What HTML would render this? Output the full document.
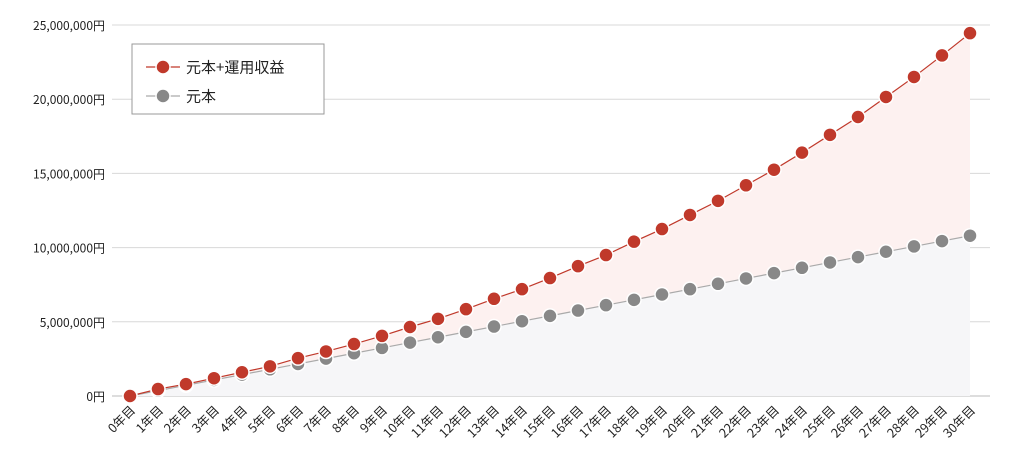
<!DOCTYPE html>
<html><head><meta charset="utf-8"><style>
body{margin:0;background:#fff;}
svg{display:block;font-family:"Noto Sans CJK JP","Liberation Sans",sans-serif;}
</style></head><body>
<svg id="chart" width="1024" height="460">
<g id="grid"></g><g id="areas"></g><g id="lines"></g><g id="pts"></g><g id="ylab"></g><g id="xlab"></g>
<g>
<rect x="132" y="44" width="192" height="70" fill="#fff" stroke="#999" stroke-width="1"/>
<g>
<line x1="146" y1="67" x2="180" y2="67" stroke="#c0392b" stroke-width="1.2"/>
<circle cx="163" cy="67" r="7" fill="#c0392b" stroke="#fff" stroke-width="1.5"/>
<text x="186" y="72.5" font-size="15" fill="#222">元本+運用収益</text></g>
<g>
<line x1="146" y1="96" x2="180" y2="96" stroke="#aaa" stroke-width="1.2"/>
<circle cx="163" cy="96" r="7" fill="#888" stroke="#fff" stroke-width="1.5"/>
<text x="186" y="101.5" font-size="15" fill="#222">元本</text></g>
</g>
</svg>
<script>
const years=[0,1,2,3,4,5,6,7,8,9,10,11,12,13,14,15,16,17,18,19,20,21,22,23,24,25,26,27,28,29,30];
const total=[0,470000,800000,1200000,1600000,2000000,2550000,3000000,3500000,4050000,4650000,5200000,5850000,6550000,7200000,7950000,8750000,9500000,10400000,11250000,12200000,13150000,14200000,15250000,16400000,17600000,18800000,20150000,21500000,22950000,24450000];
const principal=[0,360000,720000,1080000,1440000,1800000,2160000,2520000,2880000,3240000,3600000,3960000,4320000,4680000,5040000,5400000,5760000,6120000,6480000,6840000,7200000,7560000,7920000,8280000,8640000,9000000,9360000,9720000,10080000,10440000,10800000];
const yTicks=[0,5000000,10000000,15000000,20000000,25000000];
const yTickLabels=["0円","5,000,000円","10,000,000円","15,000,000円","20,000,000円","25,000,000円"];
const NS="http://www.w3.org/2000/svg";
const X=i=>130+i*28, Y=v=>396-v/25000000*371;
function mk(tag,attrs,parent){const e=document.createElementNS(NS,tag);for(const k in attrs)e.setAttribute(k,attrs[k]);document.getElementById(parent).appendChild(e);return e;}
yTicks.forEach((t,i)=>{
 const l=mk('line',{x1:112,x2:990,y1:Y(t),y2:Y(t),stroke:i==0?'#bbb':'#d8d8d8','stroke-width':1},'grid');
 
 
 const tx=mk('text',{x:105,y:Y(t)+5,'text-anchor':'end','font-size':12,fill:'#222'},'ylab');
 tx.textContent=yTickLabels[i];
 
 
});
function area(arr,fill,name){
 let d='M'+X(0)+','+Y(0);arr.forEach((v,i)=>d+=' L'+X(i)+','+Y(v));d+=' L'+X(arr.length-1)+','+Y(0)+'Z';
 const p=mk('path',{d:d,fill:fill},'areas');
 
 
}
area(total,'#fdf1f0','total-area');area(principal,'#f6f6f8','principal-area');
function series(arr,lc,pc,name){
 const p=mk('polyline',{points:arr.map((v,i)=>X(i)+','+Y(v)).join(' '),fill:'none',stroke:lc,'stroke-width':1.2},'lines');
 
 
 arr.forEach((v,i)=>{const c=mk('circle',{cx:X(i),cy:Y(v),r:7,fill:pc,stroke:'#fff','stroke-width':1.5},'pts');
 
 });
}
series(principal,'#aaa','#888','principal');series(total,'#c0392b','#c0392b','total');
years.forEach(y=>{
 const t=mk('text',{x:X(y)+6,y:411,'text-anchor':'end','font-size':12.5,fill:'#222',transform:'rotate(-45 '+(X(y)+6)+' 411)'},'xlab');
 t.textContent=y+'年目';
 
 
});
</script>
</body></html>
